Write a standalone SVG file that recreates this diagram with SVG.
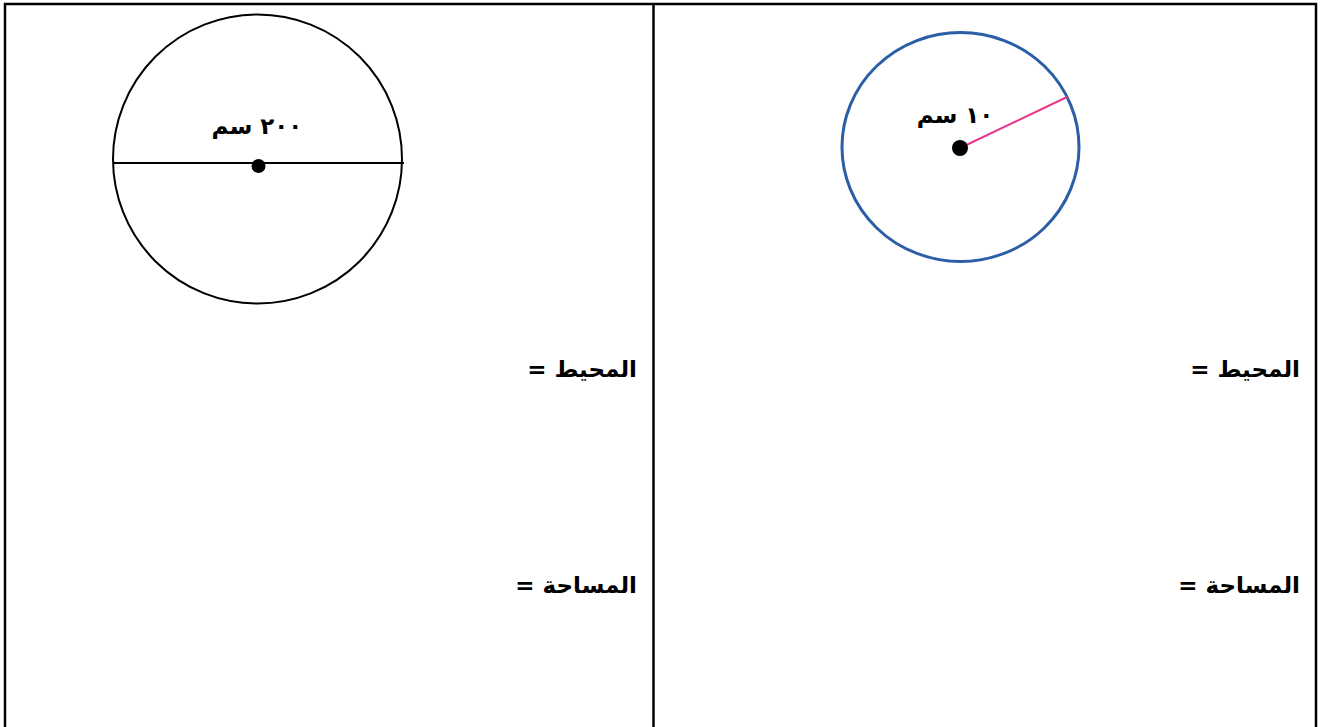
<svg xmlns="http://www.w3.org/2000/svg" width="1322" height="727" viewBox="0 0 1322 727">
<style>
.frame{stroke:#000;stroke-width:2.5;fill:none}
.lbl{font-family:"DejaVu Sans",sans-serif;font-weight:bold;font-size:23px;fill:#000;direction:rtl}
</style>
<rect width="1322" height="727" fill="#fff"/>
<g id="frame">
<path class="frame" d="M5,740 V4 H1316 V740"/>
<path class="frame" d="M653.5,4 V740"/>
</g>
<g id="circle-left">
<circle cx="257.5" cy="159" r="144.5" fill="none" stroke="#000" stroke-width="2"/>
<line x1="113" y1="163" x2="404" y2="163" stroke="#000" stroke-width="2"/>
<circle cx="258.5" cy="166" r="7" fill="#000"/>
<text class="lbl" x="257" y="134" text-anchor="middle" font-size="21" letter-spacing="2">٢٠٠ سم</text>
</g>
<g id="circle-right">
<ellipse cx="960.5" cy="147" rx="118.5" ry="114.5" fill="none" stroke="#2b5ea7" stroke-width="3"/>
<line x1="960" y1="148" x2="1067" y2="97" stroke="#e8388a" stroke-width="2"/>
<circle cx="960" cy="148" r="8" fill="#000"/>
<text class="lbl" x="955" y="123" text-anchor="middle" font-size="29" letter-spacing="5">١٠ سم</text>
</g>
<g id="labels">
<text class="lbl" x="637" y="377">المحيط =</text>
<text class="lbl" x="637" y="593">المساحة =</text>
<text class="lbl" x="1300" y="377">المحيط =</text>
<text class="lbl" x="1300" y="593">المساحة =</text>
</g>
</svg>
